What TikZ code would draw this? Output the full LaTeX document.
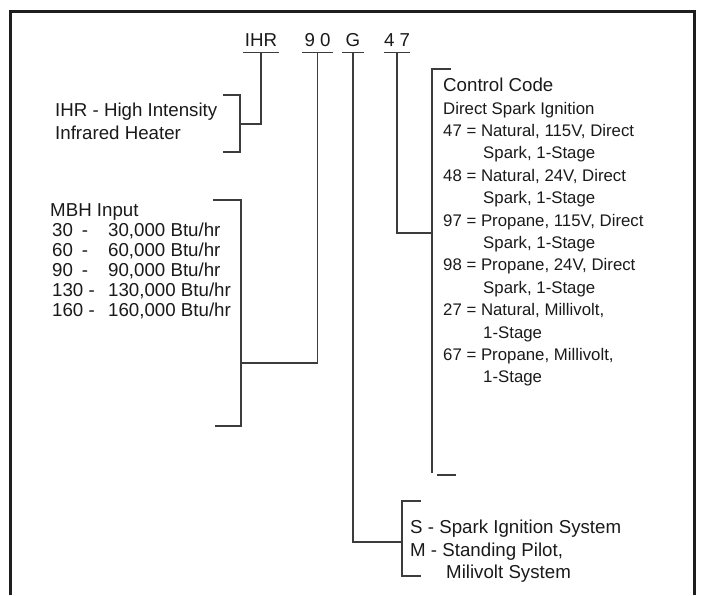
\documentclass[tikz,border=0pt]{standalone}
\usepackage{fontspec}
\setmainfont{Liberation Sans}
\usepackage{xcolor}
\usepackage{tikz}
\usetikzlibrary{positioning, calc}
\definecolor{myframe}{HTML}{1E1E1E}
\definecolor{myline}{HTML}{3C3C3C}
\definecolor{mytext}{HTML}{1A1A1A}
\tikzset{
codepart/.style={
inner xsep=0pt,
inner ysep=5.3pt,
text height=13.4pt,
text depth=0pt,
font=\fontsize{18.7}{22}\selectfont,
text=mytext
},
desc/.style={
inner sep=0pt,
align=left,
anchor=north west,
font=\fontsize{18.7}{22.5}\selectfont,
text=mytext
},
leader/.style={
draw=myline,
line width=1.3pt
},
frameline/.style={
draw=myframe,
line width=3pt
}
}

\begin{document}
\begin{tikzpicture}[x=1pt, y=-1pt]
\useasboundingbox (0,0) rectangle (701,595);

% outer frame, open at the bottom
\draw[frameline] (10.5,595) -- (10.5,11) -- (694.5,11) -- (694.5,595);

% model number parts
\node[codepart, minimum width=36pt] (ihr) at (261,40) {IHR};
\node[codepart, minimum width=31pt] (mbh) at (317.5,40) {9 0};
\node[codepart, minimum width=22pt] (ign) at (353,40) {G};
\node[codepart, minimum width=26pt] (ctl) at (397,40) {4 7};
\foreach \part in {ihr, mbh, ign, ctl} {
  \draw[leader] (\part.south west) -- (\part.south east);
}

% descriptions
\node[desc] (ihrtext) at (55,103) {IHR - High Intensity\\Infrared Heater};
\node[desc, font=\fontsize{18.7}{20}\selectfont] (mbhtext) at (50,203)
  {MBH Input\\
   \hspace*{2pt}\makebox[56pt][l]{30\hspace{9pt}-}30,000 Btu/hr\\
   \hspace*{2pt}\makebox[56pt][l]{60\hspace{9pt}-}60,000 Btu/hr\\
   \hspace*{2pt}\makebox[56pt][l]{90\hspace{9pt}-}90,000 Btu/hr\\
   \hspace*{2pt}\makebox[56pt][l]{130 -}130,000 Btu/hr\\
   \hspace*{2pt}\makebox[56pt][l]{160 -}160,000 Btu/hr};
\node[desc, font=\fontsize{16.8}{22.4}\selectfont] (ctltext) at (443,78)
  {{\fontsize{18.7}{22.4}\selectfont Control Code}\\
   Direct Spark Ignition\\
   47 = Natural, 115V, Direct\\
   \hspace*{40pt}Spark, 1-Stage\\
   48 = Natural, 24V, Direct\\
   \hspace*{40pt}Spark, 1-Stage\\
   97 = Propane, 115V, Direct\\
   \hspace*{40pt}Spark, 1-Stage\\
   98 = Propane, 24V, Direct\\
   \hspace*{40pt}Spark, 1-Stage\\
   27 = Natural, Millivolt,\\
   \hspace*{40pt}1-Stage\\
   67 = Propane, Millivolt,\\
   \hspace*{40pt}1-Stage};
\node[desc] (igntext) at (410,520)
  {S - Spark Ignition System\\
   M - Standing Pilot,\\
   \hspace*{36pt}Milivolt System};

% brackets
\draw[leader] (223,95) -- (240,95) -- (240,152) -- (223,152);
\draw[leader] (213,200) -- (241,200) -- (241,426) -- (215,426);
\draw[leader] (451,69) -- (432,69) -- (432,473);
\draw[leader] (437,475) -- (456,475);
\draw[leader] (421,501) -- (402,501) -- (402,576) -- (421,576);

% leaders from the parts to the brackets
\coordinate (ihrjoin) at (240,124);
\coordinate (mbhjoin) at (241,363);
\coordinate (ignjoin) at (402,542);
\coordinate (ctljoin) at (432,233);
\draw[leader] (ihr.south) |- (ihrjoin);
\draw[leader] (mbh.south) |- (mbhjoin);
\draw[leader] (ign.south) |- (ignjoin);
\draw[leader] (ctl.south) |- (ctljoin);

\end{tikzpicture}
\end{document}
